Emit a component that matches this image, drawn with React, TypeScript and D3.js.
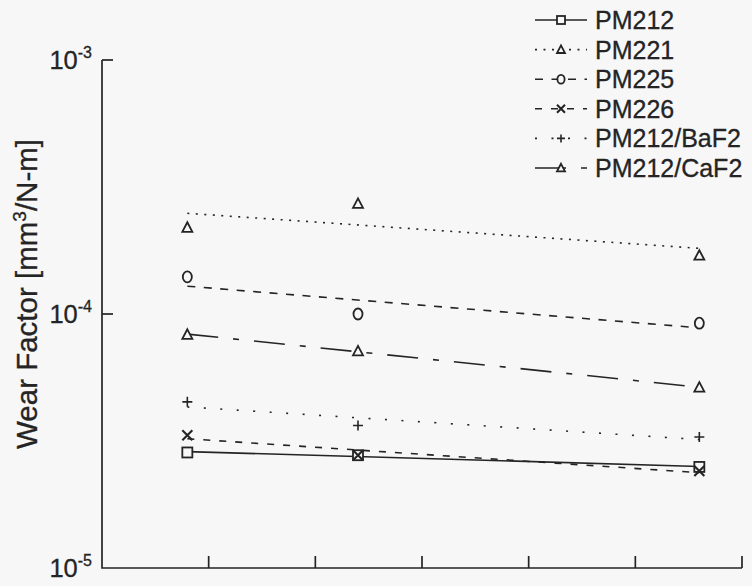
import { useEffect, useRef } from "react";
import * as d3 from "d3";

const width = 752;
const height = 586;

// x positions of the three test conditions (no tick labels in the figure)
const xValues = [0.8, 2.4, 5.6];
const xTicks = [1, 2, 3, 4, 5, 6];
const yTickExponents = [-3, -4, -5];

// wear factors, mm^3/N-m
const seriesNames = ["PM212", "PM221", "PM225", "PM226", "PM212/BaF2", "PM212/CaF2"];
const pm212 = [2.85e-5, 2.78e-5, 2.5e-5];
const pm221 = [2.19e-4, 2.72e-4, 1.7e-4];
const pm225 = [1.4e-4, 1.0e-4, 9.2e-5];
const pm226 = [3.33e-5, 2.78e-5, 2.41e-5];
const pm212BaF2 = [4.51e-5, 3.64e-5, 3.28e-5];
const pm212CaF2 = [8.3e-5, 7.14e-5, 5.14e-5];
const seriesValues = [pm212, pm221, pm225, pm226, pm212BaF2, pm212CaF2];

// line style per series
const markers = ["square", "triangle", "circle", "cross", "plus", "triangle"];
const dashes = ["none", "2,6.5", "8,8.5", "7,9", "2,14.5", "31,15,6,15"];

const ink = "#242424";
const bg = "#f7f7f7";
const font = "Liberation Sans, Arial, sans-serif";

// least squares fit of log10(y) against x
const fitLog = (xs: number[], ys: number[]) => {
  const ly = ys.map((v) => Math.log10(v));
  const mx = d3.mean(xs)!;
  const my = d3.mean(ly)!;
  let sxy = 0;
  let sxx = 0;
  xs.forEach((x, i) => {
    sxy += (x - mx) * (ly[i] - my);
    sxx += (x - mx) * (x - mx);
  });
  const b = sxy / sxx;
  return (x: number) => Math.pow(10, my + b * (x - mx));
};

const drawMarker = (g: d3.Selection<SVGGElement, unknown, null, undefined>, kind: string, cx: number, cy: number, s: number) => {
  const m = g.append("g").attr("transform", `translate(${cx},${cy})`)
    .attr("fill", "none").attr("stroke", ink).attr("stroke-width", 1.8);
  if (kind === "square") {
    m.append("rect").attr("x", -s).attr("y", -s).attr("width", 2 * s).attr("height", 2 * s).attr("fill", bg);
  } else if (kind === "triangle") {
    m.append("path").attr("d", `M0,${-s * 1.05}L${s},${s * 0.85}L${-s},${s * 0.85}Z`).attr("fill", bg);
  } else if (kind === "circle") {
    m.append("ellipse").attr("rx", s * 0.9).attr("ry", s * 1.1).attr("fill", bg);
  } else if (kind === "cross") {
    m.append("path").attr("d", `M${-s},${-s}L${s},${s}M${-s},${s}L${s},${-s}`).attr("stroke-width", 2.1);
  } else {
    m.append("path").attr("d", `M${-s},0L${s},0M0,${-s}L0,${s}`).attr("stroke-width", 1.6);
  }
};

export default function App() {
  const svgRef = useRef<SVGSVGElement>(null);

  useEffect(() => {
    if (!svgRef.current) return;
    const svg = d3.select(svgRef.current);
    svg.selectAll("*").remove();

    const x = d3.scaleLinear().domain([0, 6]).range([102, 742]);
    const y = d3.scaleLog().domain([1e-5, 1e-3]).range([568, 60]);

    svg.append("rect").attr("width", width).attr("height", height).attr("fill", bg);

    const g = svg.append("g") as d3.Selection<SVGGElement, unknown, null, undefined>;

    // axes
    g.append("path")
      .attr("d", `M${x(0)},${y(1e-3)}V${y(1e-5)}H${x(6)}`)
      .attr("fill", "none").attr("stroke", ink).attr("stroke-width", 1.7);

    yTickExponents.slice(0, 2).forEach((e) => {
      g.append("line")
        .attr("x1", x(0)).attr("x2", x(0) + 11)
        .attr("y1", y(Math.pow(10, e))).attr("y2", y(Math.pow(10, e)))
        .attr("stroke", ink).attr("stroke-width", 1.7);
    });
    xTicks.forEach((t) => {
      g.append("line")
        .attr("x1", x(t)).attr("x2", x(t))
        .attr("y1", y(1e-5)).attr("y2", y(1e-5) - 12)
        .attr("stroke", ink).attr("stroke-width", 1.7);
    });

    yTickExponents.forEach((e) => {
      const t = g.append("text")
        .attr("x", 92).attr("y", y(Math.pow(10, e)) + 9)
        .attr("text-anchor", "end")
        .attr("font-family", font)
        .attr("font-size", 25.5).attr("fill", ink)
        .attr("stroke", ink).attr("stroke-width", 0.3);
      t.append("tspan").text("10");
      t.append("tspan").attr("dy", -11).attr("font-size", 16).text(String(e));
    });

    // y axis title
    const title = g.append("text")
      .attr("transform", `translate(37,294) rotate(-90)`)
      .attr("text-anchor", "middle")
      .attr("font-family", font)
      .attr("font-size", 29.5).attr("fill", ink)
      .attr("stroke", ink).attr("stroke-width", 0.3);
    title.append("tspan").text("Wear Factor [mm");
    title.append("tspan").attr("dy", -11).attr("font-size", 19).text("3");
    title.append("tspan").attr("dy", 11).text("/N-m]");

    // fitted lines and points
    seriesValues.forEach((vals, i) => {
      const f = fitLog(xValues, vals);
      const x0 = xValues[0];
      const x1 = xValues[xValues.length - 1];
      g.append("line")
        .attr("x1", x(x0)).attr("y1", y(f(x0)))
        .attr("x2", x(x1)).attr("y2", y(f(x1)))
        .attr("stroke", ink).attr("stroke-width", 1.6)
        .attr("stroke-dasharray", dashes[i]);
    });
    seriesValues.forEach((vals, i) => {
      vals.forEach((v, j) => drawMarker(g, markers[i], x(xValues[j]), y(v), 5));
    });

    // legend
    seriesNames.forEach((name, i) => {
      const cy = 20 + i * 29.6;
      g.append("line")
        .attr("x1", 535).attr("x2", 587).attr("y1", cy).attr("y2", cy)
        .attr("stroke", ink).attr("stroke-width", 1.6)
        .attr("stroke-dasharray", dashes[i]);
      drawMarker(g, markers[i], 561, cy, 4);
      g.append("text")
        .attr("x", 595).attr("y", cy + 9)
        .attr("font-family", font)
        .attr("font-size", 25).attr("fill", ink)
        .attr("stroke", ink).attr("stroke-width", 0.3)
        .text(name);
    });
  }, []);

  return (
    <svg
      ref={svgRef}
      width={width}
      height={height}
      style={{ position: "absolute", left: 0, top: 0, display: "block" }}
    />
  );
}
